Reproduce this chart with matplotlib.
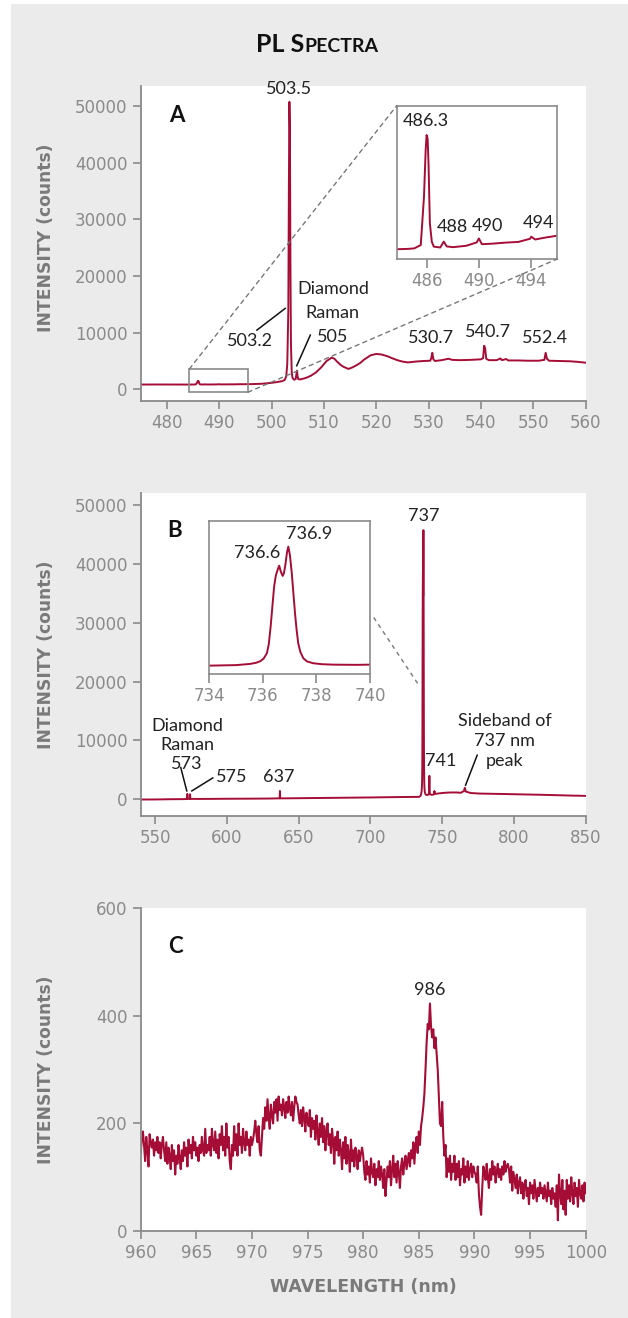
import numpy as np
import matplotlib
matplotlib.use('Agg')
import matplotlib.pylab as plt
from matplotlib.patches import Rectangle, ConnectionPatch
from matplotlib.offsetbox import TextArea, HPacker, AnnotationBbox

# ---- data ----
# panel A: 475-560 nm
wl_a = [475.0, 478.0, 481.0, 483.6, 484.5, 485.0, 485.5, 485.75, 485.88, 485.95,
        486.03, 486.1, 486.2, 486.35, 486.5, 487.0, 487.27, 487.5, 488.0, 489.0,
        489.8, 489.97, 490.2, 491.0, 492.0, 493.0, 493.9, 494.0, 494.3, 495.0,
        496.0, 498.0, 500.0, 501.0, 502.0, 502.5, 502.8, 503.0, 503.2, 503.3,
        503.4, 503.5, 503.6, 503.7, 503.85, 504.0, 504.3, 504.6, 504.75, 504.85,
        504.95, 505.1, 505.5, 506.5, 507.5, 508.5, 509.5, 510.5, 511.5, 512.0,
        512.5, 513.2, 513.8, 514.7, 515.5, 516.3, 517.0, 517.6, 518.9, 520.0,
        521.0, 522.1, 523.0, 524.0, 525.0, 526.0, 527.5, 529.0, 530.3, 530.5,
        530.7, 530.9, 531.2, 532.5, 533.8, 534.5, 536.0, 538.0, 540.0, 540.4,
        540.6, 540.8, 541.0, 541.5, 543.0, 543.7, 544.0, 544.8, 545.2, 547.0,
        549.0, 551.0, 552.1, 552.35, 552.6, 553.0, 555.0, 557.0, 558.5, 560.0]
int_a = [850, 860, 855, 846, 848, 851, 870, 1150, 1420, 1502,
         1480, 1330, 995, 889, 861, 856, 890, 862, 858, 866,
         885, 908, 875, 878, 884, 888, 906, 918, 902, 912,
         924, 980, 1150, 1280, 1450, 1650, 2300, 4500, 14000, 35000,
         50700, 46000, 22000, 8000, 3000, 2000, 1700, 1800, 2700, 3300,
         2400, 1800, 1750, 2000, 2400, 3000, 3900, 5000, 5600, 5400,
         4900, 4300, 3950, 3600, 3900, 4300, 4700, 5200, 6000, 6250,
         6150, 5850, 5500, 5150, 4900, 4750, 4900, 5000, 5050, 5500,
         6450, 5300, 5000, 5150, 5400, 5200, 5150, 5200, 5300, 5500,
         7700, 7200, 5400, 5150, 5150, 5450, 5150, 5350, 5100, 5100,
         5050, 5050, 5200, 6450, 5400, 5050, 5000, 4950, 4850, 4700]

# panel B: 540-850 nm
wl_b = [540.0, 550.0, 560.0, 570.0, 572.3, 572.5, 572.7, 574.2, 574.4, 574.6,
        580.0, 590.0, 600.0, 620.0, 630.0, 636.8, 637.0, 637.2, 640.0, 660.0,
        680.0, 700.0, 720.0, 733.0, 734.0, 735.0, 735.52, 735.75, 735.9, 736.03,
        736.15, 736.22, 736.29, 736.36, 736.42, 736.48, 736.54, 736.61, 736.67, 736.74,
        736.79, 736.84, 736.9, 736.95, 737.01, 737.08, 737.14, 737.2, 737.26, 737.32,
        737.4, 737.51, 737.65, 737.88, 738.2, 738.63, 739.5, 740.0, 740.8, 741.1,
        741.4, 742.5, 744.2, 744.6, 745.0, 748.0, 752.0, 756.0, 760.0, 763.0,
        765.2, 765.8, 766.5, 770.0, 776.5, 790.0, 800.0, 820.0, 840.0, 850.0]
int_b = [-50, -40, 0, 20, 40, 900, 60, 60, 850, 60,
         50, 60, 80, 100, 120, 150, 1400, 150, 150, 200,
         250, 300, 370, 400, 400, 600, 1050, 1500, 2080, 3100,
         5120, 8500, 15260, 23500, 30500, 34500, 36600, 38500, 36200, 34580,
         35800, 38770, 43500, 45740, 42500, 35600, 28000, 20360, 14000, 8930,
         5600, 3220, 2000, 1310, 950, 780, 700, 780, 800, 3970,
         900, 750, 800, 1400, 900, 1000, 1100, 1150, 1150, 1100,
         1400, 1950, 1300, 1050, 960, 900, 850, 750, 620, 570]

# panel C: 960-1000 nm, 0.1 nm steps
wl_c = np.round(np.arange(960.0, 1000.05, 0.1), 1)
int_c = [145, 170, 185, 160, 130, 175, 150, 120, 180, 165, 155, 170, 140, 165, 150, 175, 145, 165, 135, 160, 175,
         150, 130, 165, 125, 155, 140, 115, 160, 130, 150, 105, 140, 125, 160, 135, 115, 150, 130, 165, 140,
         155, 120, 170, 145, 160, 135, 175, 150, 165, 140, 155, 130, 160, 145, 175, 150, 140, 190, 145, 160,
         150, 175, 140, 190, 160, 150, 185, 145, 170, 135, 180, 160, 195, 150, 175, 140, 200, 155, 175, 130,
         115, 160, 140, 195, 150, 180, 140, 200, 160, 175, 145, 190, 165, 150, 185, 160, 170, 140, 175, 160,
         170, 185, 205, 180, 165, 195, 150, 140, 175, 210, 190, 230, 205, 245, 210, 190, 235, 215, 200, 240,
         220, 245, 205, 250, 225, 235, 215, 245, 230, 210, 240, 220, 250, 230, 215, 240, 205, 230, 250, 240,
         235, 215, 200, 225, 195, 230, 210, 185, 220, 205, 195, 225, 175, 210, 190, 205, 170, 215, 185, 160,
         200, 175, 210, 165, 195, 150, 185, 200, 160, 180, 145, 190, 165, 125, 175, 150, 185, 140, 170, 150,
         115, 165, 135, 175, 125, 160, 145, 110, 170, 130, 150, 120, 155, 140, 115, 150, 130, 145, 155, 140,
         110, 95, 130, 105, 120, 90, 135, 110, 100, 125, 85, 115, 100, 130, 95, 120, 105, 80, 115, 65,
         95, 120, 100, 130, 85, 115, 140, 100, 125, 90, 130, 110, 80, 120, 135, 105, 125, 140, 115, 130,
         145, 120, 150, 135, 165, 125, 160, 175, 145, 185, 160, 195, 210, 230, 255, 300, 350, 385, 375, 423,
         380, 360, 375, 340, 360, 330, 300, 250, 200, 195, 240, 175, 140, 160, 100, 135, 110, 140, 95, 125,
         110, 140, 95, 125, 100, 130, 85, 115, 105, 135, 90, 120, 100, 130, 95, 115, 125, 100, 120, 110,
         105, 90, 120, 70, 45, 30, 80, 120, 110, 95, 125, 100, 80, 115, 95, 130, 105, 120, 90, 110,
         125, 100, 115, 95, 120, 105, 130, 110, 120, 125, 115, 90, 120, 75, 110, 95, 80, 105, 70, 90,
         100, 70, 90, 60, 85, 95, 65, 80, 50, 90, 70, 85, 60, 95, 75, 55, 80, 65, 90, 70,
         80, 60, 85, 70, 55, 90, 65, 75, 50, 80, 60, 70, 45, 85, 20, 105, 70, 50, 95, 40,
         75, 30, 95, 60, 85, 55, 100, 70, 50, 90, 65, 80, 45, 95, 70, 60, 85, 55, 90, 70]

xticks_a = [480, 490, 500, 510, 520, 530, 540, 550, 560]
xticks_b = [550, 600, 650, 700, 750, 800, 850]
xticks_c = [960, 965, 970, 975, 980, 985, 990, 995, 1000]
yticks_ab = [0, 10000, 20000, 30000, 40000, 50000]
yticks_c = [0, 200, 400, 600]
inset_ticks_a = [486, 490, 494]
inset_ticks_b = [734, 736, 738, 740]

red = '#a50d36'
grey = '#8a8a8a'
txt = '#222222'
ann_font = 'Lato'

fig = plt.figure(figsize=(6.28, 13.18), dpi=100)
fig.patch.set_facecolor('white')
fig.add_artist(Rectangle((11 / 628, 0), 617 / 628, 1 - 4 / 1318, transform=fig.transFigure,
                         facecolor='#ebebeb', edgecolor='none', zorder=-1))


def style_main(ax):
    for s in ['top', 'right']:
        ax.spines[s].set_visible(False)
    for s in ['left', 'bottom']:
        ax.spines[s].set_color(grey)
        ax.spines[s].set_linewidth(1.3)
    ax.tick_params(direction='out', length=5.5, width=1.2, color=grey,
                   labelcolor=grey, labelsize=12, pad=4)
    ax.set_facecolor('white')


def style_inset(ax):
    for s in ax.spines.values():
        s.set_color(grey)
        s.set_linewidth(1.2)
    ax.set_yticks([])
    ax.tick_params(axis='x', direction='out', length=6.5, width=1.2, color=grey,
                   labelcolor=grey, labelsize=12, pad=3)


def label(ax, x, y, s, **kw):
    ax.text(x, y, s, ha='center', va='center', fontsize=13, color=txt,
            family=ann_font, **kw)


def pointer(ax, x0, y0, x1, y1):
    ax.plot([x0, x1], [y0, y1], color='#111111', lw=1.1)


# ---------------- panel A ----------------
axA = fig.add_axes([140.7 / 628, 1 - 400.7 / 1318, 445 / 628, 314.7 / 1318])
style_main(axA)
axA.plot(wl_a, int_a, color=red, lw=1.4)
axA.set_xlim(475, 560)
axA.set_ylim(-2000, 53500)
axA.set_xticks(xticks_a)
axA.set_yticks(yticks_ab)
axA.add_patch(Rectangle((484.3, -500), 11.2, 4100, facecolor='none',
                        edgecolor=grey, lw=1.2, zorder=3))
axA.text(0.081, 0.905, 'A', transform=axA.transAxes, ha='center', va='center',
         fontsize=16, fontweight='bold', color='#111111', family=ann_font)
label(axA, 503.4, 52900, '503.5')
label(axA, 495.9, 8570, '503.2')
pointer(axA, 497.2, 10450, 502.6, 14280)
label(axA, 511.7, 17680, 'Diamond')
label(axA, 511.7, 13400, 'Raman')
label(axA, 511.6, 9270, '505')
pointer(axA, 507.4, 9570, 504.8, 4160)
label(axA, 530.5, 8990, '530.7')
label(axA, 541.4, 10050, '540.7')
label(axA, 552.3, 8990, '552.4')

insA = fig.add_axes([396.7 / 628, 1 - 259 / 1318, 160.6 / 628, 153.3 / 1318])
style_inset(insA)
insA.plot(wl_a, int_a, color=red, lw=1.4)
insA.set_xlim(483.65, 496)
insA.set_ylim(790, 1670)
insA.set_xticks(inset_ticks_a)
label(insA, 485.87, 1584, '486.3')
label(insA, 487.91, 972, '488')
label(insA, 490.62, 981, '490')
label(insA, 494.55, 995, '494')

for pa, pb in [((484.3, 3600), (0, 1)), ((495.5, -500), (1, 0))]:
    con = ConnectionPatch(xyA=pa, coordsA='data', axesA=axA, xyB=pb,
                          coordsB='axes fraction', axesB=insA,
                          color='#777777', lw=1.0, ls=(0, (3, 3)), zorder=1)
    fig.add_artist(con)

# ---------------- panel B ----------------
axB = fig.add_axes([140.7 / 628, 1 - 815.7 / 1318, 445 / 628, 322.4 / 1318])
style_main(axB)
axB.plot(wl_b, int_b, color=red, lw=1.4)
axB.set_xlim(540, 850)
axB.set_ylim(-2800, 52000)
axB.set_xticks(xticks_b)
axB.set_yticks(yticks_ab)
axB.plot([702.3, 733.7], [30900, 19400], color='#777777', lw=1.0, ls=(0, (3, 3)))
axB.text(0.0755, 0.884, 'B', transform=axB.transAxes, ha='center', va='center',
         fontsize=16, fontweight='bold', color='#111111', family=ann_font)
label(axB, 737.2, 48130, '737')
label(axB, 572.5, 12415, 'Diamond')
label(axB, 572.5, 9180, 'Raman')
label(axB, 572.1, 5950, '573')
pointer(axB, 567.9, 5390, 572.1, 1410)
label(axB, 603.5, 3790, '575')
pointer(axB, 590.2, 3620, 575.6, 1410)
label(axB, 636.5, 3790, '637')
label(axB, 749.3, 6460, '741')
label(axB, 793.5, 13320, 'Sideband of')
label(axB, 793.5, 9860, '737 nm')
label(axB, 793.5, 6460, 'peak')
pointer(axB, 774.4, 7480, 766.3, 2380)

insB = fig.add_axes([209.3 / 628, 1 - 674.3 / 1318, 160.7 / 628, 153.3 / 1318])
style_inset(insB)
insB.plot(wl_b, int_b, color=red, lw=1.4)
insB.set_xlim(734, 740)
insB.set_ylim(-2900, 55500)
insB.set_xticks(inset_ticks_b)
label(insB, 737.73, 50580, '736.9')
label(insB, 735.77, 43220, '736.6')

# ---------------- panel C ----------------
axC = fig.add_axes([140.7 / 628, 1 - 1231 / 1318, 445 / 628, 322.7 / 1318])
style_main(axC)
axC.plot(wl_c, int_c, color=red, lw=1.5)
axC.set_xlim(960, 1000)
axC.set_ylim(0, 600)
axC.set_xticks(xticks_c)
axC.set_yticks(yticks_c)
axC.text(0.079, 0.881, 'C', transform=axC.transAxes, ha='center', va='center',
         fontsize=16, fontweight='bold', color='#111111', family=ann_font)
label(axC, 985.98, 448, '986')

# ---------------- titles / axis labels ----------------
for yc in [238, 655, 1070]:
    fig.text(45.7 / 628, 1 - yc / 1318, 'INTENSITY (counts)', rotation=90,
             ha='center', va='center', fontsize=12.3, fontweight='bold', color='#7a7a7a')
fig.text(363 / 628, 1 - 1287 / 1318, 'WAVELENGTH (nm)', ha='center', va='center',
         fontsize=12.5, fontweight='bold', color='#7a7a7a')

t1 = TextArea('PL S', textprops=dict(fontsize=18, fontweight='bold', color='#111111', family=ann_font))
t2 = TextArea('PECTRA', textprops=dict(fontsize=14, fontweight='bold', color='#111111', family=ann_font))
title_box = HPacker(children=[t1, t2], align='baseline', pad=0, sep=0)
fig.add_artist(AnnotationBbox(title_box, (317 / 628, 1 - 45 / 1318), xycoords='figure fraction',
                              frameon=False, box_alignment=(0.5, 0.5)))

fig.savefig('out.png', dpi=100)
